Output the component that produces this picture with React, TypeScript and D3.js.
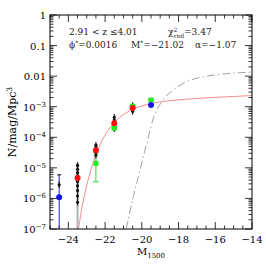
import { useEffect, useRef } from "react";
import * as d3 from "d3";

// bins of the luminosity function (M_1500)
const redM = [-23.5, -22.5, -21.5, -20.5];
const redPhi = [4.7e-6, 3.8e-5, 2.9e-4, 9.1e-4];

const greenM = [-22.5, -21.5, -20.5, -19.5];
const greenPhi = [1.4e-5, 2.0e-4, 1.05e-3, 1.66e-3];
const greenLo = [3.5e-6, 1.8e-4, 9.8e-4, 1.55e-3];
const greenHi = [3.1e-5, 2.2e-4, 1.12e-3, 1.78e-3];

const blueM = [-24.5, -19.5];
const bluePhi = [1.1e-6, 1.14e-3];
const blueLo = [1e-7, 1.05e-3];
const blueHi = [5.9e-6, 1.24e-3];

const blackM = [
  -24.5,
  -23.5, -23.5, -23.5, -23.5, -23.5, -23.5, -23.5, -23.5, -23.5,
  -22.5, -22.5, -22.5, -22.5, -22.5,
  -21.5, -21.5, -21.5, -21.5, -21.5,
  -20.5, -20.5, -20.5, -20.5,
];
const blackPhi = [
  2.8e-6,
  1.2e-5, 9.0e-6, 7.0e-6, 5.5e-6, 3.6e-6, 2.6e-6, 1.8e-6, 1.2e-6, 7.5e-7,
  5.5e-5, 4.6e-5, 3.9e-5, 3.2e-5, 2.6e-5,
  4.5e-4, 3.7e-4, 3.0e-4, 2.4e-4, 1.9e-4,
  1.1e-3, 9.5e-4, 8.2e-4, 7.0e-4,
];

// lower-limit bar under the -23.5 bin
const greyBarM = [-23.5];
const greyBarLo = [1e-7];
const greyBarHi = [1.5e-5];

// Schechter fit (red)
const fitM = [-23.45, -23.3, -23.1, -22.9, -22.7, -22.5, -22.2, -22, -21.7, -21.5, -21.2, -21, -20.5, -20, -19.5, -19, -18, -17, -16, -15, -14];
const fitPhi = [1e-7, 3.6e-7, 1.45e-6, 4.6e-6, 1.2e-5, 2.7e-5, 7.05e-5, 1.18e-4, 2.17e-4, 3.01e-4, 4.47e-4, 5.53e-4, 8.2e-4, 1.065e-3, 1.27e-3, 1.44e-3, 1.68e-3, 1.86e-3, 2.02e-3, 2.16e-3, 2.32e-3];

// dash-dot comparison curve
const dashM = [-20.85, -20.46, -20.1, -19.73, -19.4, -18.92, -18.28, -17.56, -16.65, -15.74, -14.1, -14];
const dashPhi = [1e-7, 1.15e-6, 8.5e-6, 6.3e-5, 3.7e-4, 1.45e-3, 3.55e-3, 6.6e-3, 9.5e-3, 1.15e-2, 1.35e-2, 1.36e-2];

const xTickValues = [-24, -22, -20, -18, -16, -14];
const yTickValues = [1, 0.1, 0.01, 1e-3, 1e-4, 1e-5, 1e-6, 1e-7];
const yTickLabels = ["1", "0.1", "0.01", "10|−3", "10|−4", "10|−5", "10|−6", "10|−7"];

const FONT = "'DejaVu Serif', serif";

const App = () => {
  const container = useRef<HTMLDivElement>(null);

  useEffect(() => {
    const el = container.current;
    if (!el) return;
    el.innerHTML = "";

    const W = 266, H = 266;
    const margin = { top: 15, right: 14, bottom: 37, left: 50 };

    const svg = d3.select(el).append("svg")
      .attr("width", W).attr("height", H)
      .style("position", "absolute").style("left", "0px").style("top", "0px")
      .style("background", "#fff");

    const x = d3.scaleLinear().domain([-25, -14]).range([margin.left, W - margin.right]);
    const y = d3.scaleLog().domain([1e-7, 1]).range([H - margin.bottom, margin.top]);

    const [x0, x1] = x.range();
    const [y0, y1] = y.range();

    // minor/major ticks
    const xMinor = d3.range(-25, -13.99, 0.5);
    const yMinor: number[] = [];
    for (let e = -7; e < 0; e++) for (let k = 2; k <= 9; k++) yMinor.push(k * Math.pow(10, e));

    const tickG = svg.append("g").attr("stroke", "#000").attr("stroke-width", 0.8);
    xMinor.forEach((v) => {
      const len = xTickValues.includes(v) ? 7 : 3.5;
      tickG.append("line").attr("x1", x(v)).attr("x2", x(v)).attr("y1", y0).attr("y2", y0 - len);
      tickG.append("line").attr("x1", x(v)).attr("x2", x(v)).attr("y1", y1).attr("y2", y1 + len);
    });
    yMinor.forEach((v) => {
      tickG.append("line").attr("x1", x0).attr("x2", x0 + 3.5).attr("y1", y(v)).attr("y2", y(v));
      tickG.append("line").attr("x1", x1).attr("x2", x1 - 3.5).attr("y1", y(v)).attr("y2", y(v));
    });
    yTickValues.forEach((v) => {
      tickG.append("line").attr("x1", x0).attr("x2", x0 + 7).attr("y1", y(v)).attr("y2", y(v));
      tickG.append("line").attr("x1", x1).attr("x2", x1 - 7).attr("y1", y(v)).attr("y2", y(v));
    });

    // curves
    const line = d3.line<[number, number]>()
      .x((d) => x(d[0])).y((d) => y(d[1]))
      .curve(d3.curveMonotoneX);

    svg.append("path")
      .attr("d", line(dashM.map((m, i) => [m, dashPhi[i]]) as [number, number][]))
      .attr("fill", "none").attr("stroke", "#888").attr("stroke-width", 0.8)
      .attr("stroke-dasharray", "8,3,1.5,3");

    svg.append("path")
      .attr("d", line(fitM.map((m, i) => [m, fitPhi[i]]) as [number, number][]))
      .attr("fill", "none").attr("stroke", "#f07070").attr("stroke-width", 0.8);

    // error bars
    const errG = svg.append("g");
    greyBarM.forEach((m, i) => {
      errG.append("line").attr("x1", x(m)).attr("x2", x(m))
        .attr("y1", y(greyBarLo[i])).attr("y2", y(greyBarHi[i]))
        .attr("stroke", "#a8b4b4").attr("stroke-width", 2);
    });
    blueM.forEach((m, i) => {
      errG.append("line").attr("x1", x(m)).attr("x2", x(m))
        .attr("y1", y(blueLo[i])).attr("y2", y(blueHi[i]))
        .attr("stroke", "#2222cc").attr("stroke-width", 1);
      errG.append("line").attr("x1", x(m) - 2).attr("x2", x(m) + 2)
        .attr("y1", y(blueHi[i])).attr("y2", y(blueHi[i]))
        .attr("stroke", "#000").attr("stroke-width", 1);
    });
    greenM.forEach((m, i) => {
      errG.append("line").attr("x1", x(m)).attr("x2", x(m))
        .attr("y1", y(greenLo[i])).attr("y2", y(greenHi[i]))
        .attr("stroke", "#33dd33").attr("stroke-width", 1);
      [greenLo[i], greenHi[i]].forEach((v) => {
        errG.append("line").attr("x1", x(m) - 3).attr("x2", x(m) + 3)
          .attr("y1", y(v)).attr("y2", y(v))
          .attr("stroke", "#33dd33").attr("stroke-width", 1);
      });
    });
    blackM.forEach((m, i) => {
      errG.append("line").attr("x1", x(m)).attr("x2", x(m))
        .attr("y1", y(blackPhi[i] * 0.78)).attr("y2", y(blackPhi[i] * 1.28))
        .attr("stroke", "#222").attr("stroke-width", 1.2);
    });

    // markers
    svg.append("g").selectAll("circle")
      .data(blackM.map((m, i) => [m, blackPhi[i]]))
      .join("circle")
      .attr("cx", (d) => x(d[0])).attr("cy", (d) => y(d[1]))
      .attr("r", 1.6).attr("fill", "#111");

    svg.append("g").selectAll("rect")
      .data(greenM.map((m, i) => [m, greenPhi[i]]))
      .join("rect")
      .attr("x", (d) => x(d[0]) - 2.6).attr("y", (d) => y(d[1]) - 2.6)
      .attr("width", 5.2).attr("height", 5.2).attr("rx", 1.2)
      .attr("fill", "#22ee22");

    svg.append("g").selectAll("circle")
      .data(redM.map((m, i) => [m, redPhi[i]]))
      .join("circle")
      .attr("cx", (d) => x(d[0])).attr("cy", (d) => y(d[1]))
      .attr("r", 3).attr("fill", "#ff1010");

    svg.append("g").selectAll("circle")
      .data(blueM.map((m, i) => [m, bluePhi[i]]))
      .join("circle")
      .attr("cx", (d) => x(d[0])).attr("cy", (d) => y(d[1]))
      .attr("r", 3).attr("fill", "#1818e0");

    // frame
    svg.append("rect")
      .attr("x", x0).attr("y", y1).attr("width", x1 - x0).attr("height", y0 - y1)
      .attr("fill", "none").attr("stroke", "#000").attr("stroke-width", 1);

    // tick labels
    svg.append("g").selectAll("text")
      .data(xTickValues)
      .join("text")
      .attr("x", (d) => x(d)).attr("y", y0 + 14)
      .attr("text-anchor", "middle")
      .style("font-family", FONT).style("font-size", "10px")
      .text((d) => `−${Math.abs(d)}`);

    yTickValues.forEach((v, i) => {
      const [base, exp] = yTickLabels[i].split("|");
      const t = svg.append("text")
        .attr("x", x0 - 4).attr("y", y(v) + 4)
        .attr("text-anchor", "end")
        .style("font-family", FONT).style("font-size", "10px");
      t.append("tspan").text(base);
      if (exp) t.append("tspan").attr("dy", -4).style("font-size", "7px").text(exp);
    });

    // axis titles
    const xl = svg.append("text")
      .attr("x", (x0 + x1) / 2).attr("y", 255)
      .attr("text-anchor", "middle")
      .style("font-family", FONT).style("font-size", "10px");
    xl.append("tspan").text("M");
    xl.append("tspan").attr("dy", 3).style("font-size", "7px").text("1500");

    const yl = svg.append("text")
      .attr("transform", `translate(16,${(y0 + y1) / 2}) rotate(-90)`)
      .attr("text-anchor", "middle")
      .style("font-family", FONT).style("font-size", "11px");
    yl.append("tspan").text("N/mag/Mpc");
    yl.append("tspan").attr("dy", -4).style("font-size", "7.5px").text("3");

    // annotations
    const ann = svg.append("g").style("font-family", FONT).style("font-size", "9px").attr("fill", "#222");
    ann.append("text").attr("x", 69).attr("y", 35).text("2.91  <  z  ≤4.01");
    const chi = ann.append("text").attr("x", 168).attr("y", 35);
    chi.append("tspan").text("χ");
    chi.append("tspan").attr("dy", -3.5).style("font-size", "6px").text("2");
    chi.append("tspan").attr("dx", -3.5).attr("dy", 6).style("font-size", "6px").text("red");
    chi.append("tspan").attr("dy", -2.5).text("=3.47");
    const phi = ann.append("text").attr("x", 69).attr("y", 48);
    phi.append("tspan").text("ϕ");
    phi.append("tspan").attr("dy", -3).style("font-size", "6px").text("*");
    phi.append("tspan").attr("dy", 3).text("=0.0016");
    const ms = ann.append("text").attr("x", 131).attr("y", 48);
    ms.append("tspan").text("M");
    ms.append("tspan").attr("dy", -3).style("font-size", "6px").text("*");
    ms.append("tspan").attr("dy", 3).text("=−21.02");
    ann.append("text").attr("x", 195).attr("y", 48).text("α=−1.07");
  }, []);

  return <div ref={container}></div>;
};

export default App;
